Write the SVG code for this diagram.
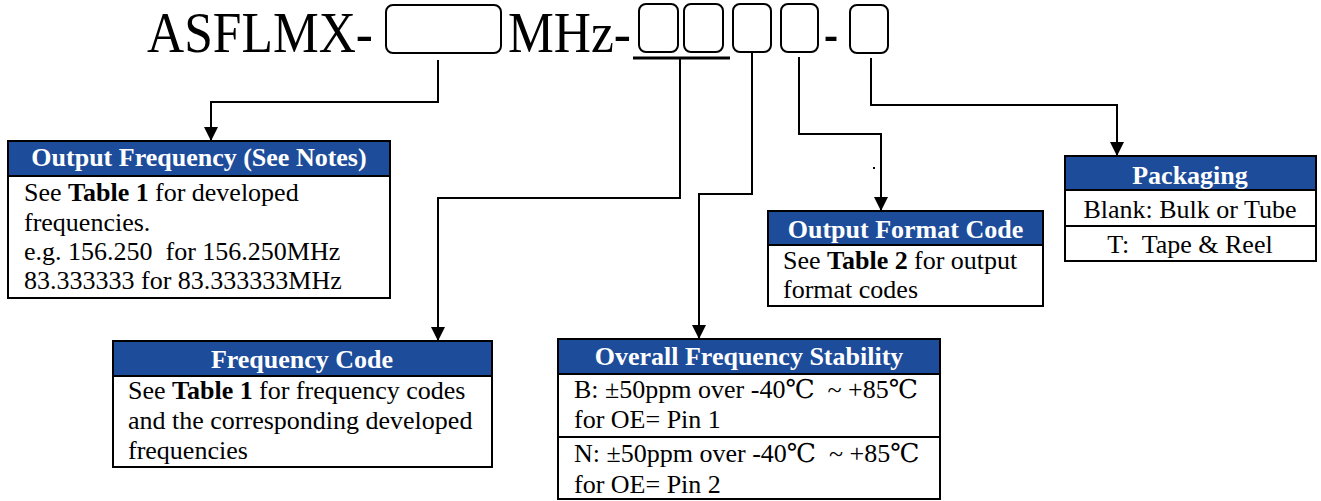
<svg xmlns="http://www.w3.org/2000/svg" width="1321" height="501" viewBox="0 0 1321 501">
<defs>
<marker id="arr" markerUnits="userSpaceOnUse" markerWidth="16" markerHeight="16" refX="14" refY="7" orient="auto">
<path d="M0,0 L14,7 L0,14 z" fill="#000"/>
</marker>
<style>
text{font-family:"Liberation Serif","DejaVu Serif",serif;fill:#000}
.title{font-size:56px}
.hd{font-size:26px;font-weight:bold;fill:#fff;text-anchor:middle}
.bd{font-size:26px}
.b{font-weight:bold}
.box{fill:#fff;stroke:#000;stroke-width:2}
.hdr{fill:#1d4c9a}
.sep{stroke:#000;stroke-width:2}
.slot{fill:none;stroke:#000;stroke-width:2}
.conn{fill:none;stroke:#000;stroke-width:2;marker-end:url(#arr)}
</style>
</defs>
<rect width="1321" height="501" fill="#fff"/>
<g id="title">
<text class="title" x="147" y="52" textLength="226" lengthAdjust="spacingAndGlyphs">ASFLMX-</text>
<rect class="slot" x="386" y="5" width="115" height="48" rx="7"/>
<text class="title" x="508" y="52" textLength="123" lengthAdjust="spacingAndGlyphs">MHz-</text>
<rect class="slot" x="639" y="4" width="39" height="48" rx="7"/>
<rect class="slot" x="684" y="4" width="39" height="48" rx="7"/>
<rect class="slot" x="733" y="4" width="38" height="48" rx="7"/>
<rect class="slot" x="781" y="4" width="37" height="48" rx="7"/>
<text class="title" x="824" y="52" textLength="14" lengthAdjust="spacingAndGlyphs">-</text>
<rect class="slot" x="850" y="5" width="38" height="48" rx="7"/>
<line x1="633" y1="58" x2="730" y2="58" stroke="#000" stroke-width="3"/>
<rect x="873" y="167" width="2" height="2" fill="#000"/>
</g>
<g id="connectors">
<path class="conn" d="M438,60 V102 H211 V141"/>
<path class="conn" d="M680,59 V198 H438 V341"/>
<path class="conn" d="M752,53 V194 H699 V339"/>
<path class="conn" d="M799,57 V134 H881 V211"/>
<path class="conn" d="M871,58 V105 H1117 V156"/>
</g>
<g id="output-frequency">
<rect class="box" x="8" y="141" width="382" height="157"/>
<rect class="hdr" x="9" y="142" width="380" height="34"/>
<line class="sep" x1="8" y1="176" x2="390" y2="176"/>
<text class="hd" x="199" y="166">Output Frequency (See Notes)</text>
<text class="bd" x="24" y="201">See</text>
<text class="bd b" x="68" y="201">Table 1</text>
<text class="bd" x="155" y="201">for developed</text>
<text class="bd" x="24" y="231">frequencies.</text>
<text class="bd" x="24" y="260" xml:space="preserve">e.g. 156.250  for 156.250MHz</text>
<text class="bd" x="24" y="289">83.333333 for 83.333333MHz</text>
</g>
<g id="frequency-code">
<rect class="box" x="113" y="341" width="379" height="126"/>
<rect class="hdr" x="114" y="342" width="377" height="34"/>
<line class="sep" x1="113" y1="376" x2="492" y2="376"/>
<text class="hd" x="302" y="368">Frequency Code</text>
<text class="bd" x="128" y="399">See</text>
<text class="bd b" x="172" y="399">Table 1</text>
<text class="bd" x="259" y="399">for frequency codes</text>
<text class="bd" x="128" y="429">and the corresponding developed</text>
<text class="bd" x="128" y="459">frequencies</text>
</g>
<g id="overall-stability">
<rect class="box" x="558" y="339" width="382" height="160"/>
<rect class="hdr" x="559" y="340" width="380" height="34"/>
<line class="sep" x1="558" y1="374" x2="940" y2="374"/>
<line class="sep" x1="558" y1="437" x2="940" y2="437"/>
<text class="hd" x="749" y="365">Overall Frequency Stability</text>
<text class="bd" x="574" y="398" xml:space="preserve">B: ±50ppm over -40℃  ~ +85℃</text>
<text class="bd" x="574" y="428">for OE= Pin 1</text>
<text class="bd" x="574" y="462" xml:space="preserve">N: ±50ppm over -40℃  ~ +85℃</text>
<text class="bd" x="574" y="493">for OE= Pin 2</text>
</g>
<g id="output-format">
<rect class="box" x="768" y="211" width="275" height="95"/>
<rect class="hdr" x="769" y="212" width="273" height="33"/>
<line class="sep" x1="768" y1="245" x2="1043" y2="245"/>
<text class="hd" x="905.5" y="238">Output Format Code</text>
<text class="bd" x="783" y="269">See</text>
<text class="bd b" x="827" y="269">Table 2</text>
<text class="bd" x="914" y="269">for output</text>
<text class="bd" x="783" y="298">format codes</text>
</g>
<g id="packaging">
<rect class="box" x="1065" y="156" width="251" height="105"/>
<rect class="hdr" x="1066" y="157" width="249" height="33"/>
<line class="sep" x1="1065" y1="190" x2="1316" y2="190"/>
<line class="sep" x1="1065" y1="226" x2="1316" y2="226"/>
<text class="hd" x="1190" y="184">Packaging</text>
<text class="bd" x="1190" y="218" text-anchor="middle">Blank: Bulk or Tube</text>
<text class="bd" x="1190" y="253" text-anchor="middle" xml:space="preserve">T:  Tape &amp; Reel</text>
</g>
</svg>
